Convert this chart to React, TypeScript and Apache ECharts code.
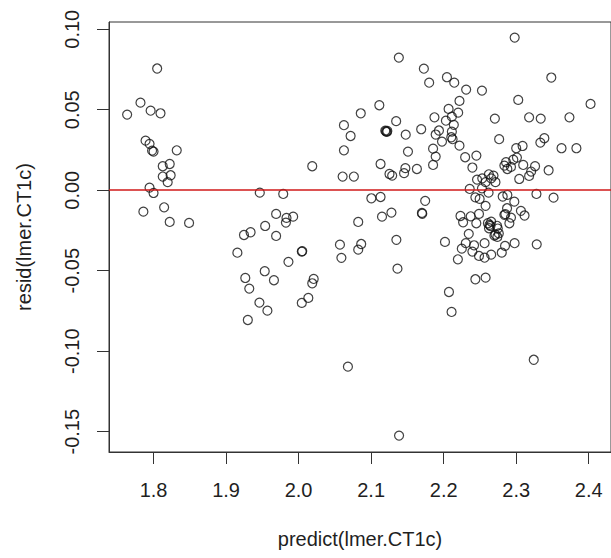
import React, { useEffect, useRef } from "react";
import * as echarts from "echarts";

// predicted value vs residual, grouped by cluster along the x axis
const clusterA: [number, number][] = [
  [1.805, 0.0756], [1.782, 0.0544], [1.796, 0.0494], [1.8096, 0.0478], [1.7636, 0.047],
  [1.789, 0.0308], [1.7945, 0.0288], [1.798, 0.0246], [1.8, 0.024], [1.832, 0.0248],
  [1.8127, 0.0149], [1.8223, 0.0163], [1.8127, 0.0085], [1.8236, 0.0093], [1.8195, 0.005],
  [1.7945, 0.0016], [1.8, -0.0017], [1.786, -0.0133], [1.8146, -0.0106], [1.8223, -0.0197],
  [1.849, -0.0203],
];

const clusterB: [number, number][] = [
  [1.9465, -0.0015], [1.9788, -0.0023], [1.969, -0.0147], [1.9833, -0.0172], [1.9825, -0.0201],
  [1.9925, -0.0164], [1.9539, -0.0222], [1.9338, -0.0261], [1.9247, -0.0278], [1.969, -0.0284],
  [1.9156, -0.0388], [2.0044, -0.0381], [2.005, -0.0378], [1.986, -0.0445], [1.9265, -0.0545],
  [1.9533, -0.0503], [1.932, -0.0611], [1.966, -0.0559], [2.0208, -0.0551], [2.0188, -0.0578],
  [1.946, -0.0698], [1.957, -0.0748], [2.0134, -0.0669], [2.0044, -0.07], [1.93, -0.0806],
  [2.0188, 0.0149],
];

const clusterC: [number, number][] = [
  [2.1382, 0.0824], [2.1727, 0.0755], [2.18, 0.0668], [2.1113, 0.0528], [2.0857, 0.0478],
  [2.0625, 0.0404], [2.0717, 0.0337], [2.0625, 0.0248], [2.0607, 0.0085], [2.0762, 0.0085],
  [2.1345, 0.0429], [2.1195, 0.037], [2.1205, 0.0366], [2.1215, 0.0362], [2.1223, 0.0368],
  [2.1477, 0.0345], [2.169, 0.0379], [2.1873, 0.0453], [2.1935, 0.0371], [2.189, 0.0346],
  [2.1977, 0.0302], [2.1508, 0.024], [2.1854, 0.0258], [2.189, 0.0209], [2.1854, 0.0157],
  [2.1631, 0.0132], [2.1472, 0.0137], [2.1454, 0.0106], [2.113, 0.0163], [2.1253, 0.0101],
  [2.129, 0.0091], [2.1003, -0.005], [2.113, -0.0042], [2.1745, -0.0066], [2.128, -0.0139],
  [2.115, -0.0164], [2.0822, -0.0197], [2.17, -0.0141], [2.1705, -0.0146], [2.1348, -0.0308],
  [2.057, -0.0338], [2.059, -0.042], [2.0863, -0.0334], [2.0822, -0.0369], [2.1363, -0.0487],
  [2.068, -0.1096], [2.1385, -0.1524],
];

const clusterDHigh: [number, number][] = [
  [2.2979, 0.0948], [2.2045, 0.0702], [2.2146, 0.0668], [2.3484, 0.07], [2.231, 0.0625],
  [2.2528, 0.0619], [2.2218, 0.0555], [2.3028, 0.0561], [2.4025, 0.0536], [2.2068, 0.0505],
  [2.22, 0.0482], [2.2031, 0.0432], [2.214, 0.0406], [2.2113, 0.0457], [2.2706, 0.0445],
  [2.3178, 0.0453], [2.3338, 0.0445], [2.3734, 0.0453], [2.2113, 0.0364], [2.2105, 0.0329],
  [2.2123, 0.0317], [2.2765, 0.0317], [2.2218, 0.0277], [2.3, 0.0261], [2.3088, 0.0275],
  [2.3333, 0.0296], [2.3388, 0.0323], [2.3625, 0.0261], [2.383, 0.0261],
];

const clusterDMid: [number, number][] = [
  [2.2296, 0.0205], [2.2451, 0.0215], [2.2396, 0.0141], [2.2837, 0.0153], [2.2878, 0.0132],
  [2.2928, 0.0145], [2.286, 0.0174], [2.296, 0.019], [2.301, 0.0203], [2.3097, 0.0157],
  [2.326, 0.0149], [2.3206, 0.0116], [2.3178, 0.0089], [2.3447, 0.0124], [2.3042, 0.007],
  [2.246, 0.0066], [2.2532, 0.0074], [2.2623, 0.0099], [2.2687, 0.0091], [2.2655, 0.0074],
  [2.2578, 0.005], [2.2714, 0.005], [2.2359, 0.0008], [2.2528, 0.0012], [2.2619, -0.0015],
  [2.2437, -0.0044], [2.2496, -0.0054], [2.2578, -0.0097], [2.2814, -0.0039], [2.2878, -0.0029],
  [2.2974, -0.0071], [2.3279, -0.0023], [2.3515, -0.0046], [2.2232, -0.016], [2.2373, -0.0162],
  [2.2487, -0.0147], [2.2874, -0.0112], [2.2837, -0.0153], [2.285, -0.0148], [2.2928, -0.017],
  [2.3065, -0.0128], [2.3115, -0.0157], [2.2268, -0.0199], [2.245, -0.0205], [2.261, -0.0205],
  [2.2655, -0.0195],
];

const clusterDLow: [number, number][] = [
  [2.2632, -0.0215], [2.2645, -0.0222], [2.2625, -0.0236], [2.2736, -0.0221], [2.2746, -0.0238],
  [2.2906, -0.0205], [2.2346, -0.0271], [2.27, -0.0282], [2.2715, -0.0276], [2.274, -0.029],
  [2.276, -0.0268], [2.2018, -0.0321], [2.2305, -0.0329], [2.2419, -0.0342], [2.2564, -0.0329],
  [2.2846, -0.0346], [2.2978, -0.0329], [2.3283, -0.0336], [2.225, -0.0363], [2.2396, -0.0381],
  [2.2487, -0.0408], [2.2564, -0.0419], [2.2655, -0.04], [2.2801, -0.0387], [2.2196, -0.0429],
  [2.2437, -0.0553], [2.2578, -0.0543], [2.2073, -0.0632], [2.2109, -0.0756], [2.3242, -0.1053],
];

const xTicks = [1.8, 1.9, 2.0, 2.1, 2.2, 2.3, 2.4];
const yTicks = [-0.15, -0.1, -0.05, 0, 0.05, 0.1];
const xTitle = "predict(lmer.CT1c)";
const yTitle = "resid(lmer.CT1c)";
const refLine = 0;

export default function App() {
  const ref = useRef<HTMLDivElement>(null);
  useEffect(() => {
    if (!ref.current) return;
    const chart = echarts.init(ref.current, null, { renderer: "svg" });
    const font = "'Liberation Sans', Arial, sans-serif";
    const textColor = "#1f1f1f";
    const lineColor = "#333333";
    const points = [...clusterA, ...clusterB, ...clusterC, ...clusterDHigh, ...clusterDMid, ...clusterDLow];
    chart.setOption({
      animation: false,
      backgroundColor: "#ffffff",
      grid: {
        left: 109,
        top: 22,
        width: 507,
        height: 430,
        show: true,
        borderColor: lineColor,
        borderWidth: 1,
        backgroundColor: "transparent",
      },
      xAxis: {
        type: "value",
        min: 1.7386,
        max: 2.4307,
        name: xTitle,
        nameLocation: "middle",
        nameGap: 77,
        nameTextStyle: { fontSize: 20, color: textColor, fontFamily: font },
        axisLine: { show: true, onZero: false, lineStyle: { color: lineColor, width: 1 } },
        axisTick: {
          show: true,
          inside: false,
          length: 12,
          customValues: xTicks,
          lineStyle: { color: lineColor, width: 1 },
        },
        axisLabel: {
          show: true,
          customValues: xTicks,
          margin: 28,
          fontSize: 20,
          color: textColor,
          fontFamily: font,
          formatter: (v: number) => v.toFixed(1),
        },
        splitLine: { show: false },
      },
      yAxis: {
        type: "value",
        min: -0.1626,
        max: 0.1045,
        name: yTitle,
        nameLocation: "middle",
        nameGap: 75,
        nameTextStyle: { fontSize: 20, color: textColor, fontFamily: font },
        axisLine: { show: true, onZero: false, lineStyle: { color: lineColor, width: 1 } },
        axisTick: {
          show: true,
          inside: false,
          length: 12,
          customValues: yTicks,
          lineStyle: { color: lineColor, width: 1 },
        },
        axisLabel: {
          show: true,
          customValues: yTicks,
          rotate: 90,
          margin: 27,
          fontSize: 20,
          color: textColor,
          fontFamily: font,
          formatter: (v: number) => v.toFixed(2),
        },
        splitLine: { show: false },
      },
      series: [
        {
          type: "scatter",
          data: points,
          symbol: "circle",
          symbolSize: 9,
          itemStyle: { color: "rgba(0,0,0,0)", borderColor: "#111111", borderWidth: 1.2 },
          emphasis: { disabled: true },
          markLine: {
            silent: true,
            symbol: "none",
            label: { show: false },
            lineStyle: { color: "#d01818", width: 1.6, type: "solid" },
            data: [{ yAxis: refLine }],
          },
        },
      ],
    });
    return () => chart.dispose();
  }, []);
  return (
    <div
      ref={ref}
      style={{ position: "absolute", left: 0, top: 0, width: 611, height: 558, background: "#fff" }}
    />
  );
}
